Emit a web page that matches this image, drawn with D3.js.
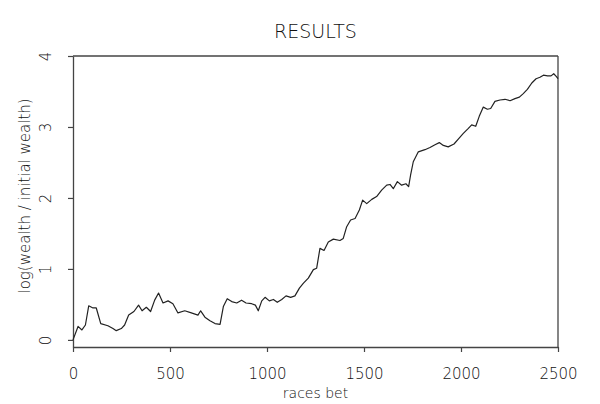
<!DOCTYPE html>
<html>
<head>
<meta charset="utf-8">
<script src="https://cdn.jsdelivr.net/npm/d3@7"></script>
<style>
  body { margin: 0; background: #fff; }
  text { font-family: "DejaVu Sans", sans-serif; font-weight: 300; fill: #111; }
</style>
</head>
<body>
<div id="chart"></div>
<script>
// Line chart: log wealth ratio versus number of races bet

const WIDTH = 600
const HEIGHT = 404

// data
const racesBet = [
  0, 26, 46, 64, 81, 103, 120, 143, 180, 206, 223, 249, 266, 287, 314, 338,
  356, 378, 400, 421, 441, 464, 490, 515, 541, 576, 610, 644, 658, 680, 706,
  732, 758, 775, 795, 818, 844, 869, 892, 921, 940, 955, 973, 990, 1012, 1033,
  1053, 1076, 1098, 1122, 1144, 1167, 1188, 1213, 1239, 1256, 1273, 1294, 1316,
  1342, 1376, 1393, 1410, 1431, 1454, 1476, 1493, 1514, 1540, 1565, 1591, 1617,
  1634, 1651, 1672, 1694, 1716, 1730, 1740, 1754, 1780, 1814, 1840, 1866, 1888,
  1909, 1934, 1964, 1986, 2012, 2038, 2055, 2076, 2094, 2115, 2136, 2153, 2175,
  2201, 2227, 2253, 2278, 2301, 2321, 2342, 2365, 2387, 2407, 2425, 2446, 2464,
  2478, 2492, 2500
]
const logWealth = [
  0.00, 0.19, 0.14, 0.21, 0.48, 0.45, 0.45, 0.23, 0.20, 0.16, 0.13, 0.16, 0.21,
  0.35, 0.40, 0.49, 0.41, 0.46, 0.40, 0.56, 0.66, 0.52, 0.55, 0.51, 0.38, 0.41,
  0.38, 0.35, 0.41, 0.32, 0.27, 0.23, 0.22, 0.47, 0.58, 0.54, 0.52, 0.56, 0.52,
  0.51, 0.49, 0.41, 0.55, 0.60, 0.55, 0.57, 0.53, 0.57, 0.62, 0.60, 0.62, 0.73,
  0.80, 0.87, 0.99, 1.01, 1.29, 1.26, 1.38, 1.42, 1.40, 1.43, 1.59, 1.69, 1.71,
  1.83, 1.97, 1.92, 1.98, 2.02, 2.11, 2.18, 2.19, 2.13, 2.23, 2.18, 2.20, 2.16,
  2.32, 2.51, 2.65, 2.68, 2.71, 2.75, 2.78, 2.74, 2.72, 2.76, 2.83, 2.91, 2.98,
  3.03, 3.01, 3.15, 3.28, 3.25, 3.26, 3.36, 3.38, 3.39, 3.37, 3.40, 3.42, 3.47,
  3.53, 3.62, 3.68, 3.70, 3.73, 3.72, 3.72, 3.75, 3.71, 3.68
]
const xTicks = [0, 500, 1000, 1500, 2000, 2500]
const yTicks = [0, 1, 2, 3, 4]

const MARGIN = { TOP: 56, RIGHT: 42, BOTTOM: 57, LEFT: 73 }

const svg = d3.select("#chart")
  .append("svg")
  .attr("width", WIDTH)
  .attr("height", HEIGHT)

const x = d3.scaleLinear()
  .domain([0, 2500])
  .range([MARGIN.LEFT, WIDTH - MARGIN.RIGHT])

// bottom of frame sits a little under zero
const y = d3.scaleLinear()
  .domain([-0.1, 4])
  .range([HEIGHT - MARGIN.BOTTOM, MARGIN.TOP])

const frameColor = "#444"

// frame top and right
svg.append("line")
  .attr("x1", x(0)).attr("x2", x(2500))
  .attr("y1", y(4)).attr("y2", y(4))
  .attr("stroke", frameColor).attr("stroke-width", 1.3)
svg.append("line")
  .attr("x1", x(2500)).attr("x2", x(2500))
  .attr("y1", y(4)).attr("y2", y(-0.1))
  .attr("stroke", frameColor).attr("stroke-width", 1.3)

// x axis
const xAxis = svg.append("g")
  .attr("transform", `translate(0,${y(-0.1)})`)
  .call(d3.axisBottom(x).tickValues(xTicks).tickFormat(d3.format("d"))
    .tickSize(5).tickSizeOuter(0))
xAxis.select(".domain").attr("stroke", frameColor).attr("stroke-width", 1.3)
xAxis.selectAll(".tick line").attr("stroke", frameColor).attr("stroke-width", 1.2)
xAxis.selectAll(".tick text")
  .attr("y", 32)
  .attr("dy", 0)
  .style("font-size", "15px")

// y axis
const yAxis = svg.append("g")
  .attr("transform", `translate(${x(0)},0)`)
  .call(d3.axisLeft(y).tickValues(yTicks).tickFormat(d3.format("d"))
    .tickSize(5).tickSizeOuter(0))
yAxis.select(".domain").attr("stroke", frameColor).attr("stroke-width", 1.3)
yAxis.selectAll(".tick line").attr("stroke", frameColor).attr("stroke-width", 1.2)
yAxis.selectAll(".tick text")
  .attr("x", null)
  .attr("text-anchor", "middle")
  .attr("transform", "translate(-27,0) rotate(-90)")
  .attr("dy", "0.35em")
  .style("font-size", "15px")

// the curve
const line = d3.line()
  .x(d => x(d[0]))
  .y(d => y(d[1]))

svg.append("path")
  .datum(d3.zip(racesBet, logWealth))
  .attr("d", line)
  .attr("fill", "none")
  .attr("stroke", "#222")
  .attr("stroke-width", 1.2)
  .attr("stroke-linejoin", "round")

// labels
const midX = (x(0) + x(2500)) / 2

svg.append("text")
  .attr("x", midX)
  .attr("y", 38)
  .attr("text-anchor", "middle")
  .style("font-size", "19px")
  .text("RESULTS")

svg.append("text")
  .attr("x", midX)
  .attr("y", 398)
  .attr("text-anchor", "middle")
  .style("font-size", "14px")
  .text("races bet")

svg.append("text")
  .attr("transform", `translate(25,${(y(0) + y(4)) / 2 - 2}) rotate(-90)`)
  .attr("text-anchor", "middle")
  .attr("dy", "0.35em")
  .style("font-size", "15px")
  .text("log(wealth / initial wealth)")
</script>
</body>
</html>
